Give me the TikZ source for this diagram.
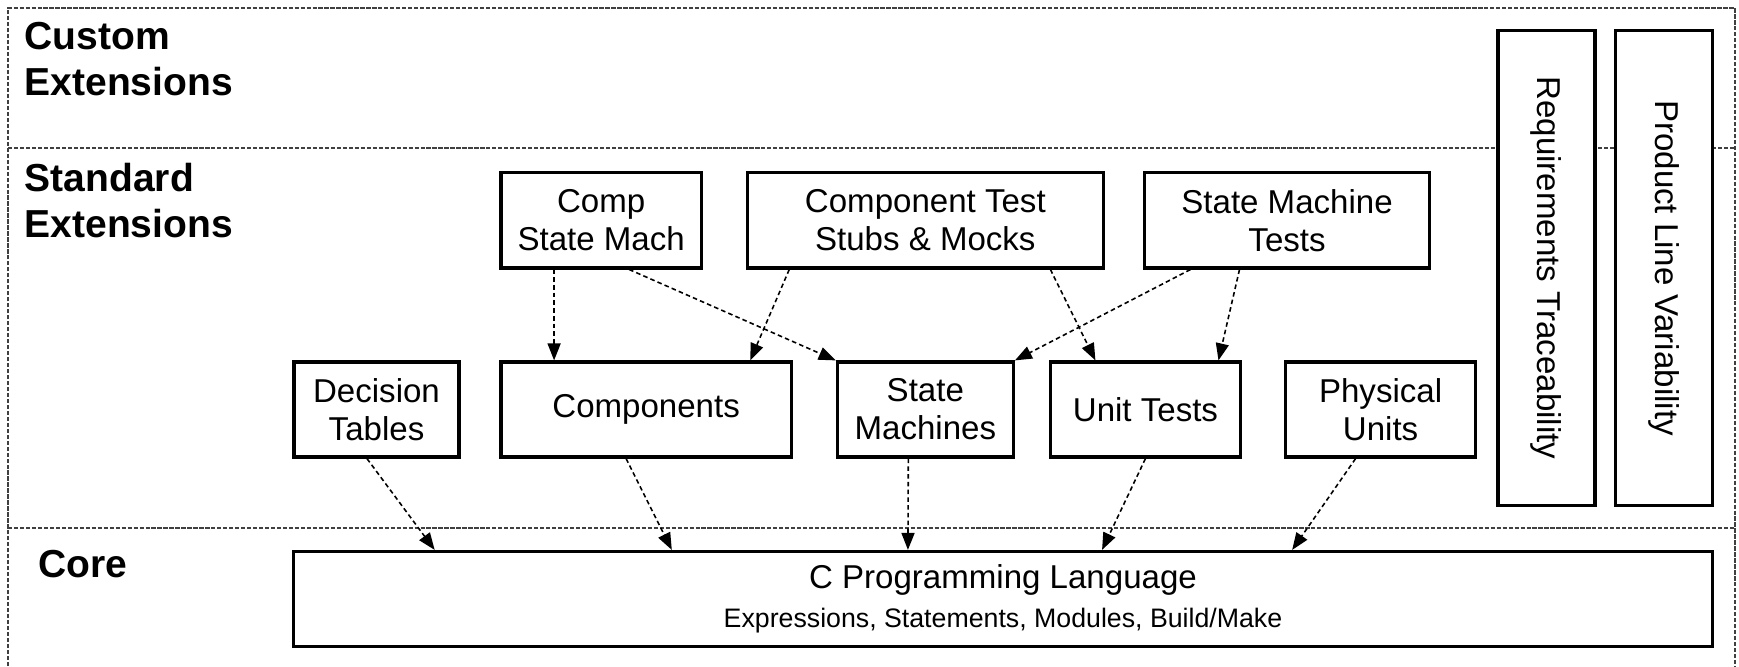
\documentclass[tikz,border=0pt]{standalone}
\usepackage{fontspec}
\setmainfont{Liberation Sans}
\usetikzlibrary{arrows.meta,positioning}

\begin{document}
\begin{tikzpicture}[>={Triangle[length=1.7mm,width=1.3mm]},x=0.01cm,y=-0.01cm]
\tikzstyle{block}=[shape=rectangle,draw,line width=0.9pt,fill=white,text centered,align=center,inner sep=0pt,minimum height=9.5mm,font=\fontsize{9.4}{10.8}\selectfont]
\tikzstyle{tall}=[block,rotate=-90,minimum width=47.4mm,minimum height=9.7mm]
\tikzstyle{layer}=[anchor=west,align=left,inner sep=0pt,font=\bfseries\fontsize{11.1}{13.1}\selectfont]
\tikzstyle{frame}=[black!75,line width=0.6pt,dash pattern=on 1.2pt off 0.5pt]
\tikzstyle{dep}=[->,draw,line width=0.45pt,dash pattern=on 1.3pt off 0.9pt]

\useasboundingbox (0,0) rectangle (1739,666);

% layers
\draw[frame] (8,666) -- (8,8) -- (1735,8) -- (1735,666);
\draw[frame] (8,148) -- (1735,148);
\draw[frame] (8,528) -- (1735,528);

\node[layer] (custom) at (24,59) {Custom\\Extensions};
\node[layer] (standard) at (24,201) {Standard\\Extensions};
\node[layer] (core) at (38,564) {Core};

% core
\node[block] (clang) [minimum width=141.8mm,font=\fontsize{9.4}{11.1}\selectfont] at (1003,599) {C Programming Language\\{\fontsize{7.6}{9}\selectfont Expressions, Statements, Modules, Build/Make}};

% standard extensions
\node[block] (dec) [minimum width=16.5mm] at (376.5,409.5) {Decision\\Tables};
\node[block] (comp) [right of=dec, node distance=26.95mm, minimum width=29mm] {Components};
\node[block] (sm) [right of=comp, node distance=27.9mm, minimum width=17.6mm] {State\\Machines};
\node[block] (unit) [right of=sm, node distance=22mm, minimum width=19mm] {Unit Tests};
\node[block] (phys) [right of=unit, node distance=23.5mm, minimum width=19mm] {Physical\\Units};

\node[block] (ctest) [above of=sm, node distance=18.9mm, minimum width=35.6mm] {Component Test\\Stubs \& Mocks};
\node[block] (csm) [left of=ctest, node distance=32.4mm, minimum width=20mm] {Comp\\State Mach};
\node[block] (smt) [right of=ctest, node distance=36.15mm, minimum width=28.5mm] {State Machine\\Tests};

% cross-cutting
\node[tall] (req) at (1546.5,268) {Requirements Traceability};
\node[tall] (pl) at (1664,268) {Product Line Variability};

\path
([xshift=-0.95mm]dec.south) edge[dep] ([xshift=-56.8mm]clang.north)
([xshift=-2mm]comp.south) edge[dep] ([xshift=-33.1mm]clang.north)
([xshift=-1.7mm]sm.south) edge[dep] ([xshift=-9.5mm]clang.north)
(unit.south) edge[dep] ([xshift=9.9mm]clang.north)
([xshift=-2.5mm]phys.south) edge[dep] ([xshift=28.9mm]clang.north)
([xshift=-4.7mm]csm.south) edge[dep] ([xshift=-9.2mm]comp.north)
([xshift=2.8mm]csm.south) edge[dep] (sm.north west)
([xshift=-13.6mm]ctest.south) edge[dep] ([xshift=10.4mm]comp.north)
([xshift=12.5mm]ctest.south) edge[dep] ([xshift=-5mm]unit.north)
([xshift=-9.65mm]smt.south) edge[dep] (sm.north east)
([xshift=-4.75mm]smt.south) edge[dep] ([xshift=7.3mm]unit.north)
;
\end{tikzpicture}
\end{document}
